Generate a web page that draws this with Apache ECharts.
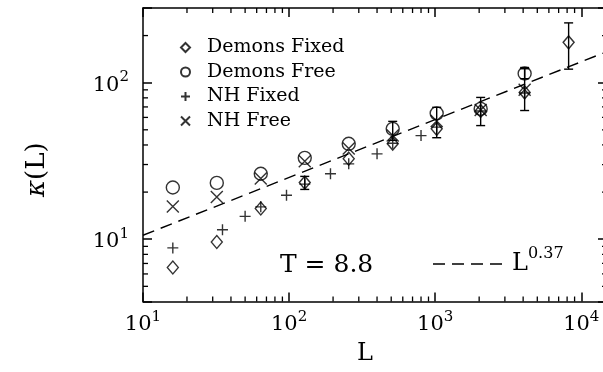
<!DOCTYPE html>
<html>
<head>
<meta charset="utf-8">
<script src="https://cdn.jsdelivr.net/npm/echarts@6/dist/echarts.min.js"></script>
<style>
  html, body { margin: 0; padding: 0; background: #fff; }
  #chart { width: 603px; height: 372px; }
</style>
</head>
<body>
<div id="chart"></div>
<script>
// 数据
const demonsFixed = [[16, 6.6], [32, 9.6], [64, 15.7], [128, 23.0], [256, 32.7], [512, 40.8], [1024, 50.7], [2048, 66], [4096, 86.7], [8192, 181]]
const demonsFree = [[16, 21.4], [32, 22.9], [64, 26.2], [128, 33.1], [256, 40.7], [512, 50.7], [1024, 63.7], [2048, 68], [4096, 114.5]]
const nhFixed = [[16, 8.8], [35, 11.5], [50, 14.0], [64, 16.1], [96, 19.1], [128, 22.5], [192, 26.2], [256, 30.3], [400, 35.1], [512, 41], [800, 45.9], [1024, 52], [2048, 66], [4096, 86]]
const nhFree = [[16, 16.2], [32, 18.6], [64, 24.4], [128, 31.5], [256, 38], [512, 46], [1024, 57], [2048, 67], [4096, 90]]
// 误差棒 [L, 下限, 上限]
const errorBars = [[128, 20.8, 25.2], [512, 42.8, 56.6], [1024, 44.5, 69.6], [2048, 53.2, 80.5], [4096, 66.4, 125], [4096, 106, 122.8], [8192, 122, 241]]
// L^0.37 拟合线的两端
const fitLine = [[10, 10.6], [15000, 158]]

// 坐标轴范围与次刻度
const xRange = [10, 15000]
const yRange = [4, 300]
const xMinorTicks = [20, 30, 40, 50, 60, 70, 80, 90, 200, 300, 400, 500, 600, 700, 800, 900, 2000, 3000, 4000, 5000, 6000, 7000, 8000, 9000]
const yMinorTicks = [5, 6, 7, 8, 9, 20, 30, 40, 50, 60, 70, 80, 90, 200]

const font = 'DejaVu Serif'
const black = '#000'

const chart = echarts.init(document.getElementById('chart'))

// 10^n 形式的刻度标签
function powLabel(v) {
  const e = Math.log10(v)
  if (Math.abs(e - Math.round(e)) > 1e-6)
    return ''
  return `{b|10}{s|${Math.round(e)}}`
}

const labelRich = {
  b: { fontFamily: font, fontSize: 21, lineHeight: 26, verticalAlign: 'bottom', color: black },
  s: { fontFamily: font, fontSize: 15, lineHeight: 15, verticalAlign: 'top', color: black },
}

function logAxis(range, position, showLabel) {
  return {
    type: 'log',
    logBase: 10,
    position,
    min: range[0],
    max: range[1],
    axisLine: { show: true, onZero: false, lineStyle: { color: black, width: 1.5 } },
    axisTick: { show: true, inside: true, length: 9, lineStyle: { color: black, width: 1.5 } },
    splitLine: { show: false },
    axisLabel: {
      show: showLabel,
      formatter: powLabel,
      rich: labelRich,
      margin: position === 'left' ? 14 : 8,
    },
  }
}

// 次刻度（四条边都画）
function minorX(params, api) {
  const v = api.value(0)
  const b = api.coord([v, yRange[0]])
  const t = api.coord([v, yRange[1]])
  const style = { stroke: black, lineWidth: 1.3 }
  return {
    type: 'group',
    children: [
      { type: 'line', shape: { x1: b[0], y1: b[1], x2: b[0], y2: b[1] - 5 }, style },
      { type: 'line', shape: { x1: t[0], y1: t[1], x2: t[0], y2: t[1] + 5 }, style },
    ],
  }
}

function minorY(params, api) {
  const v = api.value(1)
  const l = api.coord([xRange[0], v])
  const r = api.coord([xRange[1], v])
  const style = { stroke: black, lineWidth: 1.3 }
  return {
    type: 'group',
    children: [
      { type: 'line', shape: { x1: l[0], y1: l[1], x2: l[0] + 5, y2: l[1] }, style },
      { type: 'line', shape: { x1: r[0], y1: r[1], x2: r[0] - 5, y2: r[1] }, style },
    ],
  }
}

function errorBar(params, api) {
  const lo = api.coord([api.value(0), api.value(1)])
  const hi = api.coord([api.value(0), api.value(2)])
  const style = { stroke: black, lineWidth: 1.4 }
  const w = 4.5
  return {
    type: 'group',
    children: [
      { type: 'line', shape: { x1: lo[0], y1: lo[1], x2: hi[0], y2: hi[1] }, style },
      { type: 'line', shape: { x1: lo[0] - w, y1: lo[1], x2: lo[0] + w, y2: lo[1] }, style },
      { type: 'line', shape: { x1: hi[0] - w, y1: hi[1], x2: hi[0] + w, y2: hi[1] }, style },
    ],
  }
}

const markerStyle = { color: 'transparent', borderColor: black, borderWidth: 1.4 }
const plusPath = 'path://M0,5L10,5M5,0L5,10'
const crossPath = 'path://M0,0L10,10M10,0L0,10'

chart.setOption({
  backgroundColor: '#fff',
  animation: false,
  // 右边框在画面之外（原图被裁切）
  grid: { left: 143, width: 464, top: 8, height: 293.5, outerBoundsMode: 'none', containLabel: false },
  xAxis: [
    logAxis(xRange, 'bottom', true),
    logAxis(xRange, 'top', false),
  ],
  yAxis: [
    logAxis(yRange, 'left', true),
    logAxis(yRange, 'right', false),
  ],
  legend: {
    orient: 'vertical',
    left: 175,
    top: 33,
    itemWidth: 9,
    itemHeight: 9,
    itemGap: 5.5,
    data: ['Demons Fixed', 'Demons Free', 'NH Fixed', 'NH Free'],
    textStyle: { fontFamily: font, fontSize: 19, lineHeight: 19, color: black, padding: [0, 0, 0, 12] },
    selectedMode: false,
  },
  graphic: [
    {
      type: 'text',
      left: 280,
      top: 253,
      style: { text: 'T = 8.8', font: `25px "${font}"`, fill: black },
    },
    // 拟合线图例
    {
      type: 'line',
      shape: { x1: 433, y1: 264, x2: 506, y2: 264 },
      style: { stroke: black, lineWidth: 1.4, lineDash: [12, 7] },
    },
    {
      type: 'text',
      left: 512,
      top: 246,
      style: {
        text: '{b|L}{s|0.37}',
        rich: {
          b: { fontFamily: font, fontSize: 24, lineHeight: 30, verticalAlign: 'bottom', fill: black },
          s: { fontFamily: font, fontSize: 16, lineHeight: 16, verticalAlign: 'top', fill: black },
        },
      },
    },
    {
      type: 'text',
      left: 357,
      top: 342,
      style: { text: 'L', font: `24px "${font}"`, fill: black },
    },
    {
      type: 'text',
      x: 24,
      y: 197,
      rotation: Math.PI / 2,
      style: {
        text: '{i|κ}{r|(L)}',
        rich: {
          i: { fontFamily: font, fontSize: 26, fontStyle: 'italic', fill: black },
          r: { fontFamily: font, fontSize: 26, fill: black },
        },
      },
    },
  ],
  series: [
    {
      name: 'Demons Fixed',
      type: 'scatter',
      symbol: 'diamond',
      symbolSize: [11, 13],
      itemStyle: markerStyle,
      data: demonsFixed,
    },
    {
      name: 'Demons Free',
      type: 'scatter',
      symbol: 'circle',
      symbolSize: 13,
      itemStyle: markerStyle,
      data: demonsFree,
    },
    {
      name: 'NH Fixed',
      type: 'scatter',
      symbol: plusPath,
      symbolSize: 11,
      itemStyle: markerStyle,
      data: nhFixed,
    },
    {
      name: 'NH Free',
      type: 'scatter',
      symbol: crossPath,
      symbolSize: 12,
      itemStyle: markerStyle,
      data: nhFree,
    },
    {
      type: 'custom',
      renderItem: errorBar,
      data: errorBars,
      encode: { x: 0, y: [1, 2] },
      silent: true,
    },
    {
      name: 'fit',
      type: 'line',
      data: fitLine,
      symbol: 'none',
      lineStyle: { color: black, width: 1.4, type: [12, 7] },
      silent: true,
    },
    {
      type: 'custom',
      renderItem: minorX,
      data: xMinorTicks.map(v => [v, yRange[0]]),
      silent: true,
    },
    {
      type: 'custom',
      renderItem: minorY,
      data: yMinorTicks.map(v => [xRange[0], v]),
      silent: true,
    },
  ],
})
</script>
</body>
</html>
